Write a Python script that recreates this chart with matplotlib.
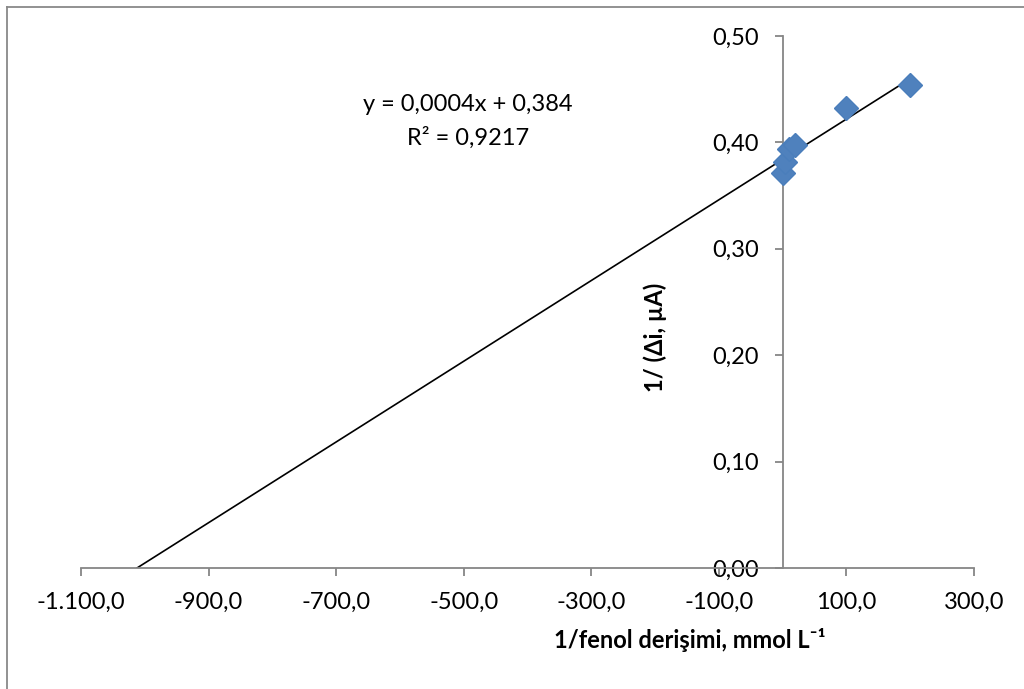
import matplotlib
matplotlib.use("Agg")
import matplotlib.pyplot as plt
from matplotlib.lines import Line2D
from matplotlib.ticker import FuncFormatter
import numpy as np

# Lineweaver-Burk style data: 1/concentration vs 1/current
inv_conc = [1.0, 4.0, 10.0, 20.0, 100.0, 200.0]
inv_current = [0.371, 0.382, 0.394, 0.398, 0.432, 0.454]

x_ticks = [-1100, -900, -700, -500, -300, -100, 100, 300]
y_ticks = [0.0, 0.1, 0.2, 0.3, 0.4, 0.5]

eq_text = "y = 0,0004x + 0,384"
r2_text = "R² = 0,9217"
x_label = "1/fenol derişimi, mmol L⁻¹"
y_label = "1/ (Δi, µA)"

plt.rcParams['font.family'] = ['Lato', 'DejaVu Sans']
FS = 17

x = np.array(inv_conc)
y = np.array(inv_current)

# linear fit, extended back to the x intercept
slope, intercept = np.polyfit(x, y, 1)
x0 = -intercept / slope
fit_x = np.array([x0, x.max()])
fit_y = slope * fit_x + intercept


def fmt_num(v, decimals):
    s = f"{v:,.{decimals}f}"
    return s.replace(",", "X").replace(".", ",").replace("X", ".")


fig = plt.figure(figsize=(10.24, 6.89), dpi=100)
ax = fig.add_axes([81 / 1024, 121 / 689, 893 / 1024, 532 / 689])

ax.plot(fit_x, fit_y, color="black", lw=1.2, zorder=2)
ax.plot(x, y, linestyle="none", marker="D", ms=12, color="#4F81BD",
        markeredgecolor="#4A7EBB", zorder=3)

ax.set_xlim(-1100, 300)
ax.set_ylim(0, 0.5)
ax.set_xticks(x_ticks)
ax.set_yticks(y_ticks)
ax.xaxis.set_major_formatter(FuncFormatter(lambda v, p: fmt_num(v, 1)))
ax.yaxis.set_major_formatter(FuncFormatter(lambda v, p: fmt_num(v, 2)))

# axes styling: y axis crosses at x = 0
for side in ("top", "right"):
    ax.spines[side].set_visible(False)
ax.spines["left"].set_position(("data", 0))
for side in ("left", "bottom"):
    ax.spines[side].set_color("#868686")
    ax.spines[side].set_linewidth(1.3)
ax.tick_params(axis="both", direction="out", length=6, width=1.3,
               color="#868686", labelsize=FS, labelcolor="black")
ax.tick_params(axis="y", pad=11)
ax.tick_params(axis="x", pad=11)

ax.text(0.643, 0.434, y_label, transform=ax.transAxes, rotation=90,
        ha="center", va="center", fontsize=FS, fontweight="bold")
ax.text(0.682, -0.135, x_label, transform=ax.transAxes,
        ha="center", va="center", fontsize=FS, fontweight="bold")

ax.text(0.433, (568 - 104) / 532, eq_text, transform=ax.transAxes,
        ha="center", va="center", fontsize=FS)
ax.text(0.433, (568 - 138) / 532, r2_text, transform=ax.transAxes,
        ha="center", va="center", fontsize=FS)

# chart frame (left and top edges)
fig.add_artist(Line2D([7 / 1024, 7 / 1024], [0, 1 - 7 / 689],
                      transform=fig.transFigure, color="#898989", lw=1.3))
fig.add_artist(Line2D([7 / 1024, 1], [1 - 7 / 689, 1 - 7 / 689],
                      transform=fig.transFigure, color="#898989", lw=1.3))

fig.savefig("out.png", dpi=100)
